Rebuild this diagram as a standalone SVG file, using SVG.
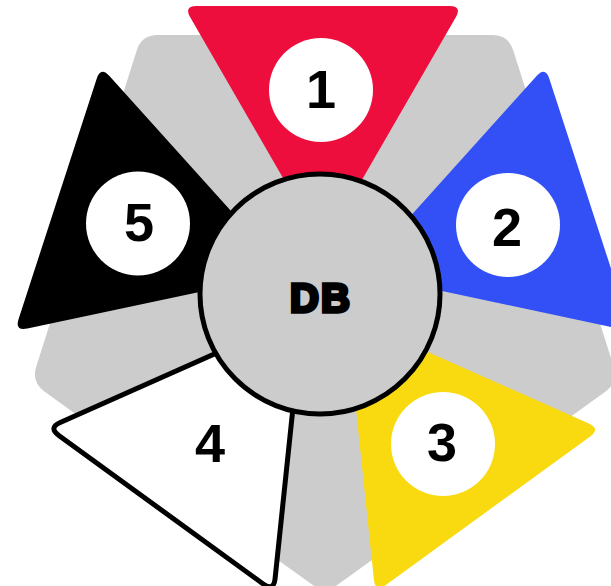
<svg xmlns="http://www.w3.org/2000/svg" xmlns:xlink="http://www.w3.org/1999/xlink" width="611" height="586" viewBox="0 0 611 586">
<style>
.num{font-family:"Liberation Sans",Arial,sans-serif;font-weight:bold;font-size:54px;fill:#000;text-anchor:middle}
.db{font-family:"Liberation Sans",Arial,sans-serif;font-weight:bold;font-size:40px;fill:#000;stroke:#000;stroke-width:3.5;stroke-linejoin:miter;letter-spacing:2px;text-anchor:middle}
.badge{fill:#fff}
</style>
<defs>
<path id="tri" d="M -126.3,-279 L 126.3,-279 Q 139.3,-279 132.8,-267.7 L 6.5,-49.1 Q 0,-37.8 -6.5,-49.1 L -132.8,-267.7 Q -139.3,-279 -126.3,-279 Z"/>
</defs>
<rect width="611" height="586" fill="#fff"/>
<g id="background">
<path fill="#cccccc" d="M 157.6,35 L 492.4,35 Q 508.4,35 513.2,50.2 L 613.8,366.8 Q 618.6,382 605.6,391.4 L 338,584.6 Q 325,594 312,584.6 L 44.4,391.4 Q 31.4,382 36.2,366.8 L 136.8,50.2 Q 141.6,35 157.6,35 Z"/>
</g>
<g id="connectors"></g>
<g id="segment-1">
<use xlink:href="#tri" href="#tri" transform="translate(323,285)" fill="#ee0e3e"/>
</g>
<g id="segment-2">
<use xlink:href="#tri" href="#tri" transform="translate(323,285) rotate(72)" fill="#3250f5"/>
</g>
<g id="segment-3">
<use xlink:href="#tri" href="#tri" transform="translate(324,285) rotate(144)" fill="#f9d90f"/>
</g>
<g id="segment-4">
<use xlink:href="#tri" href="#tri" transform="translate(325,284) rotate(216)" fill="#ffffff" stroke="#000" stroke-width="5" stroke-linejoin="round"/>
</g>
<g id="segment-5">
<use xlink:href="#tri" href="#tri" transform="translate(323,285) rotate(288)" fill="#000000"/>
</g>
<g id="db">
<circle cx="320" cy="294" r="120" fill="#cccccc" stroke="#000" stroke-width="5"/>
<text class="db" x="321" y="311.5">DB</text>
</g>
<g id="label-1">
<circle class="badge" cx="321" cy="90" r="52"/>
<text class="num" x="321" y="108">1</text>
</g>
<g id="label-2">
<circle class="badge" cx="508" cy="225" r="52"/>
<text class="num" x="507" y="246">2</text>
</g>
<g id="label-3">
<circle class="badge" cx="443" cy="444" r="52"/>
<text class="num" x="442" y="461">3</text>
</g>
<g id="label-4">
<text class="num" x="210" y="462">4</text>
</g>
<g id="label-5">
<circle class="badge" cx="138" cy="223.5" r="52"/>
<text class="num" x="139" y="241">5</text>
</g>
</svg>
